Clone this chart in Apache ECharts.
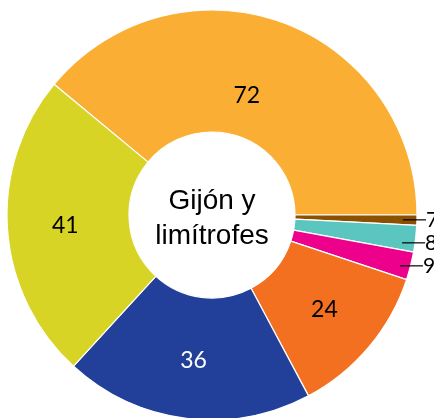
<!DOCTYPE html>
<html style="height: 100%">
<head>
    <meta charset="utf-8">
    <script type="text/javascript" src="https://cdn.jsdelivr.net/npm/echarts@6/dist/echarts.min.js"></script>
</head>
<body style="height: 100%; margin: 0">
<div id="container" style="width: 434px; height: 418px"></div>
<script type="text/javascript">
    // label text shown on each slice
    var labels = ["72", "7", "8", "9", "24", "36", "41"];
    // slice sizes (share of the circle, %)
    var shares = [39.0, 0.8, 2.1, 2.2, 12.1, 19.6, 24.2];
    var colors = ["#FBAE34", "#8B5100", "#5BC5C0", "#EC008C", "#F37021", "#22409A", "#D7D425"];
    var centerText = "Gijón y\nlimítrofes";

    var dom = document.getElementById("container");
    var myChart = echarts.init(dom);

    var data = [];      // the coloured ring, with the big labels
    var outData = [];   // invisible copy, only carries the small outside labels
    for (var i = 0; i < shares.length; i++) {
        var small = shares[i] < 5;
        var item = {
            name: labels[i],
            value: shares[i],
            itemStyle: {color: colors[i]},
            label: {
                show: !small,
                position: "inside",
                fontSize: 23,
                color: labels[i] == "36" ? "#fff" : "#000"
            }
        };
        if (i == 0) item.label.offset = [-15, 19];
        data.push(item);

        outData.push({
            name: labels[i],
            value: shares[i],
            label: {show: small},
            labelLine: {show: small}
        });
    }

    var option = {
        animation: false,
        graphic: [{
            type: "text",
            x: 212,
            y: 219,
            z: 100,
            style: {
                text: centerText,
                font: "28px 'Liberation Sans', Arial, sans-serif",
                fill: "#000",
                align: "center",
                verticalAlign: "middle",
                lineHeight: 35
            }
        }],
        series: [{
            type: "pie",
            z: 2,
            center: [212, 215],
            radius: [83, 205],
            startAngle: 140.4,
            clockwise: true,
            itemStyle: {borderColor: "#fff", borderWidth: 1.2},
            label: {formatter: "{b}", fontFamily: "Lato"},
            labelLine: {show: false},
            emphasis: {disabled: true},
            data: data
        }, {
            type: "pie",
            z: 5,
            left: 0, top: 0, width: 700, height: 418,
            center: [212, 215],
            radius: [83, 192],
            startAngle: 140.4,
            clockwise: true,
            silent: true,
            itemStyle: {color: "rgba(0,0,0,0)", borderWidth: 0},
            label: {
                position: "outside",
                formatter: "{b}",
                fontFamily: "Lato",
                fontSize: 21,
                color: "#000",
                width: 30,
                distanceToLabelLine: 3
            },
            labelLine: {length: 1, length2: 21, lineStyle: {color: "#000", width: 1.2}},
            labelLayout: function (p) {
                // flat leader lines running into the slice, as in the original
                if (!p.labelLinePoints) return {};
                var y = p.labelRect.y + p.labelRect.height / 2;
                var x2 = p.labelRect.x;
                return {labelLinePoints: [[x2 - 23, y], [x2 - 12, y], [x2, y]]};
            },
            emphasis: {disabled: true},
            data: outData
        }]
    };
    myChart.setOption(option);
</script>
</body>
</html>
